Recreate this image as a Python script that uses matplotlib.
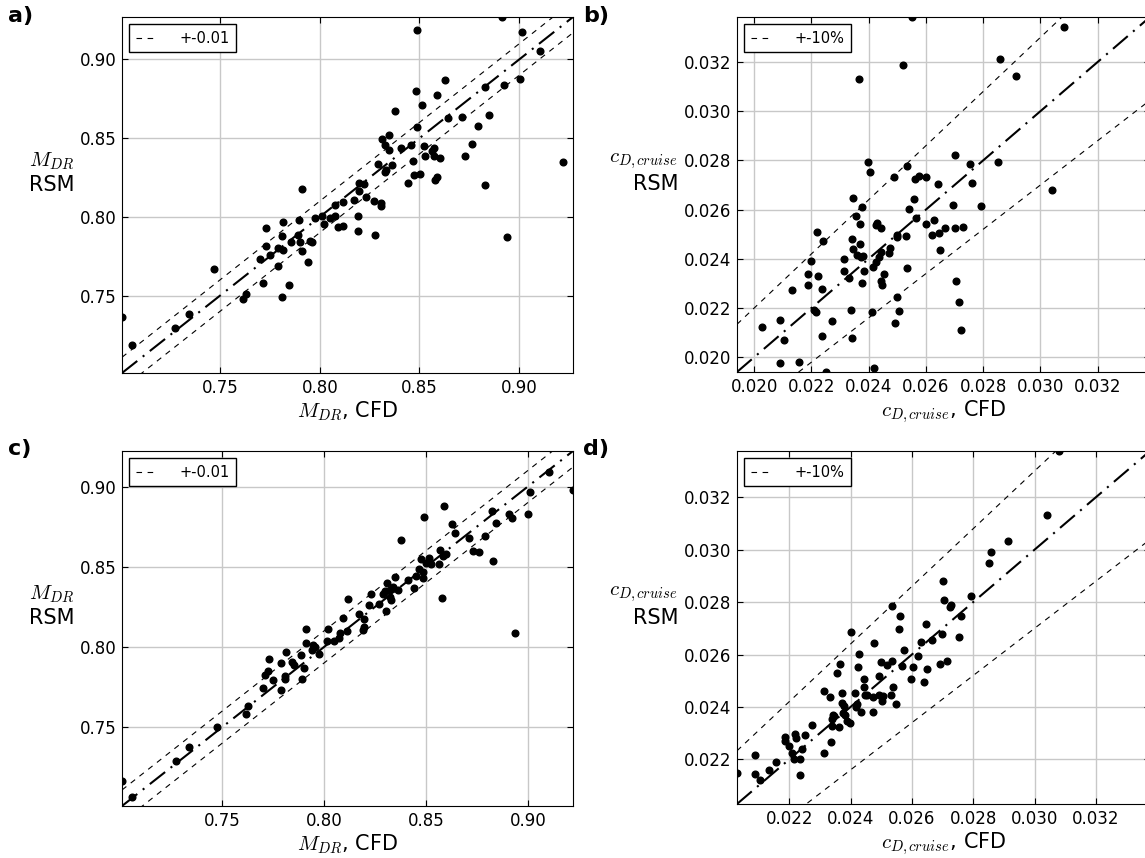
import numpy as np
import matplotlib
matplotlib.use('Agg')
from matplotlib import pyplot as plt

plt.rcParams['mathtext.fontset'] = 'cm'
plt.rcParams['lines.scale_dashes'] = False

# --- a) M_DR, model 1 ---
mdr_cfd_a = [0.7008, 0.7057, 0.7272, 0.7342, 0.7471, 0.7616, 0.7628, 0.7713, 0.7701, 0.7728,
             0.7728, 0.7750, 0.7789, 0.7790, 0.7809, 0.7814, 0.7814, 0.7810, 0.7844, 0.7854,
             0.7889, 0.7901, 0.7909, 0.7909, 0.7894, 0.7941, 0.7951, 0.7960, 0.7978, 0.8012,
             0.8020, 0.8052, 0.8077, 0.8077, 0.8091, 0.8116, 0.8117, 0.8171, 0.8191, 0.8191,
             0.8196, 0.8196, 0.8220, 0.8230, 0.8274, 0.8277, 0.8305, 0.8307, 0.8292, 0.8312,
             0.8327, 0.8346, 0.8349, 0.8326, 0.8334, 0.8364, 0.8379, 0.8409, 0.8455, 0.8467,
             0.8440, 0.8475, 0.8503, 0.8487, 0.8485, 0.8490, 0.8515, 0.8523, 0.8527, 0.8565,
             0.8572, 0.8572, 0.8601, 0.8579, 0.8589, 0.8589, 0.8626, 0.8644, 0.8713, 0.8730,
             0.8762, 0.8792, 0.8827, 0.8830, 0.8847, 0.8913, 0.8923, 0.8941, 0.9002, 0.9013,
             0.9104, 0.9222]
mdr_rsm_a = [0.7364, 0.7183, 0.7294, 0.7383, 0.7666, 0.7481, 0.7508, 0.7583, 0.7733, 0.7812,
             0.7927, 0.7757, 0.7689, 0.7800, 0.7876, 0.7789, 0.7967, 0.7489, 0.7568, 0.7838,
             0.7887, 0.7840, 0.7785, 0.8176, 0.7982, 0.7714, 0.7849, 0.7840, 0.7995, 0.8006,
             0.7952, 0.7991, 0.8006, 0.8073, 0.7935, 0.8094, 0.7942, 0.8109, 0.8003, 0.7912,
             0.8214, 0.8165, 0.8207, 0.8128, 0.8101, 0.7882, 0.8086, 0.8069, 0.8339, 0.8494,
             0.8458, 0.8518, 0.8424, 0.8282, 0.8297, 0.8331, 0.8671, 0.8437, 0.8458, 0.8356,
             0.8216, 0.8267, 0.8275, 0.8573, 0.8800, 0.9187, 0.8713, 0.8450, 0.8388, 0.8420,
             0.8437, 0.8384, 0.8371, 0.8237, 0.8252, 0.8777, 0.8870, 0.8630, 0.8634, 0.8388,
             0.8465, 0.8579, 0.8826, 0.8203, 0.8647, 0.9270, 0.8839, 0.7870, 0.8879, 0.9176,
             0.9055, 0.8350]

# --- b) c_D cruise, model 1 ---
cd_cfd_b = [0.02029, 0.02090, 0.02103, 0.02090, 0.02157, 0.02132, 0.02188, 0.02188, 0.02198, 0.02208,
            0.02217, 0.02218, 0.02224, 0.02236, 0.02236, 0.02242, 0.02252, 0.02272, 0.02315, 0.02315,
            0.02332, 0.02337, 0.02342, 0.02342, 0.02345, 0.02347, 0.02356, 0.02361, 0.02370, 0.02371,
            0.02366, 0.02377, 0.02378, 0.02373, 0.02381, 0.02385, 0.02399, 0.02404, 0.02413, 0.02416,
            0.02419, 0.02426, 0.02426, 0.02430, 0.02435, 0.02443, 0.02444, 0.02444, 0.02446, 0.02453,
            0.02472, 0.02476, 0.02490, 0.02492, 0.02498, 0.02500, 0.02499, 0.02506, 0.02520, 0.02531,
            0.02534, 0.02534, 0.02540, 0.02551, 0.02558, 0.02563, 0.02566, 0.02575, 0.02599, 0.02602,
            0.02621, 0.02628, 0.02641, 0.02647, 0.02649, 0.02668, 0.02694, 0.02701, 0.02702, 0.02706,
            0.02716, 0.02723, 0.02728, 0.02755, 0.02760, 0.02792, 0.02853, 0.02860, 0.02916, 0.03042,
            0.03082]
cd_rsm_b = [0.02123, 0.02153, 0.02071, 0.01978, 0.01982, 0.02274, 0.02293, 0.02337, 0.02393, 0.02190,
            0.02182, 0.02508, 0.02329, 0.02277, 0.02085, 0.02471, 0.01940, 0.02149, 0.02400, 0.02349,
            0.02323, 0.02192, 0.02077, 0.02482, 0.02438, 0.02649, 0.02576, 0.02416, 0.02461, 0.02543,
            0.03129, 0.02609, 0.02301, 0.02408, 0.02413, 0.02349, 0.02795, 0.02751, 0.02184, 0.02366,
            0.01956, 0.02386, 0.02539, 0.02546, 0.02409, 0.02524, 0.02427, 0.02309, 0.02292, 0.02338,
            0.02423, 0.02446, 0.02731, 0.02138, 0.02497, 0.02489, 0.02245, 0.02188, 0.03189, 0.02493,
            0.02777, 0.02361, 0.02604, 0.03383, 0.02645, 0.02723, 0.02564, 0.02736, 0.02731, 0.02541,
            0.02498, 0.02558, 0.02705, 0.02505, 0.02434, 0.02526, 0.02619, 0.02821, 0.02527, 0.02311,
            0.02223, 0.02110, 0.02528, 0.02785, 0.02710, 0.02616, 0.02795, 0.03212, 0.03143, 0.02681,
            0.03344]

# --- c) M_DR, model 2 ---
mdr_cfd_c = [0.7008, 0.7057, 0.7274, 0.7339, 0.7472, 0.7617, 0.7625, 0.7702, 0.7712, 0.7726,
             0.7730, 0.7749, 0.7787, 0.7809, 0.7809, 0.7787, 0.7813, 0.7843, 0.7854, 0.7887,
             0.7899, 0.7894, 0.7910, 0.7910, 0.7943, 0.7948, 0.7956, 0.7976, 0.8012, 0.8020,
             0.8051, 0.8074, 0.8078, 0.8091, 0.8114, 0.8119, 0.8171, 0.8189, 0.8194, 0.8197,
             0.8219, 0.8230, 0.8271, 0.8291, 0.8299, 0.8306, 0.8311, 0.8324, 0.8322, 0.8327,
             0.8337, 0.8348, 0.8361, 0.8378, 0.8411, 0.8440, 0.8453, 0.8465, 0.8475, 0.8485,
             0.8488, 0.8490, 0.8501, 0.8514, 0.8524, 0.8565, 0.8570, 0.8578, 0.8586, 0.8599,
             0.8588, 0.8626, 0.8644, 0.8713, 0.8729, 0.8760, 0.8792, 0.8826, 0.8831, 0.8844,
             0.8910, 0.8923, 0.8939, 0.9000, 0.9013, 0.9103, 0.9222]
mdr_rsm_c = [0.7162, 0.7062, 0.7291, 0.7376, 0.7502, 0.7579, 0.7633, 0.7745, 0.7822, 0.7847,
             0.7926, 0.7793, 0.7731, 0.7820, 0.7797, 0.7901, 0.7968, 0.7905, 0.7887, 0.7951,
             0.7868, 0.7802, 0.8026, 0.8111, 0.7980, 0.8011, 0.7997, 0.7955, 0.8034, 0.8109,
             0.8038, 0.8055, 0.8086, 0.8180, 0.8099, 0.8300, 0.8204, 0.8105, 0.8126, 0.8173,
             0.8263, 0.8333, 0.8267, 0.8333, 0.8346, 0.8227, 0.8400, 0.8358, 0.8313, 0.8290,
             0.8375, 0.8435, 0.8358, 0.8670, 0.8416, 0.8369, 0.8443, 0.8489, 0.8551, 0.8466,
             0.8431, 0.8813, 0.8524, 0.8553, 0.8520, 0.8516, 0.8603, 0.8306, 0.8570, 0.8580,
             0.8882, 0.8767, 0.8709, 0.8682, 0.8601, 0.8595, 0.8691, 0.8850, 0.8533, 0.8776,
             0.8832, 0.8803, 0.8086, 0.8832, 0.8969, 0.9093, 0.8977]

# --- d) c_D cruise, model 2 ---
cd_cfd_d = [0.02030, 0.02090, 0.02090, 0.02104, 0.02133, 0.02158, 0.02188, 0.02188, 0.02199, 0.02209,
            0.02215, 0.02220, 0.02223, 0.02236, 0.02236, 0.02241, 0.02252, 0.02273, 0.02314, 0.02315,
            0.02333, 0.02337, 0.02340, 0.02341, 0.02344, 0.02347, 0.02357, 0.02362, 0.02366, 0.02372,
            0.02372, 0.02376, 0.02378, 0.02382, 0.02387, 0.02399, 0.02402, 0.02415, 0.02418, 0.02422,
            0.02424, 0.02428, 0.02435, 0.02443, 0.02444, 0.02446, 0.02455, 0.02472, 0.02472, 0.02476,
            0.02492, 0.02498, 0.02494, 0.02501, 0.02507, 0.02520, 0.02531, 0.02534, 0.02534, 0.02539,
            0.02549, 0.02558, 0.02562, 0.02567, 0.02575, 0.02598, 0.02602, 0.02621, 0.02630, 0.02640,
            0.02646, 0.02648, 0.02667, 0.02693, 0.02699, 0.02701, 0.02705, 0.02714, 0.02724, 0.02728,
            0.02754, 0.02759, 0.02791, 0.02852, 0.02858, 0.02914, 0.03039, 0.03080]
cd_rsm_d = [0.02147, 0.02215, 0.02143, 0.02121, 0.02161, 0.02190, 0.02285, 0.02269, 0.02251, 0.02224,
            0.02201, 0.02297, 0.02283, 0.02201, 0.02140, 0.02241, 0.02292, 0.02332, 0.02460, 0.02223,
            0.02439, 0.02265, 0.02327, 0.02355, 0.02370, 0.02365, 0.02531, 0.02322, 0.02564, 0.02452,
            0.02414, 0.02378, 0.02404, 0.02368, 0.02346, 0.02340, 0.02686, 0.02454, 0.02398, 0.02411,
            0.02554, 0.02602, 0.02382, 0.02505, 0.02475, 0.02444, 0.02444, 0.02437, 0.02381, 0.02643,
            0.02518, 0.02570, 0.02444, 0.02424, 0.02442, 0.02559, 0.02444, 0.02577, 0.02784, 0.02477,
            0.02411, 0.02697, 0.02745, 0.02556, 0.02617, 0.02508, 0.02551, 0.02593, 0.02647, 0.02495,
            0.02717, 0.02545, 0.02655, 0.02565, 0.02678, 0.02881, 0.02809, 0.02577, 0.02783, 0.02790,
            0.02666, 0.02745, 0.02822, 0.02949, 0.02990, 0.03033, 0.03131, 0.03376]

mdr_ticks = [0.75, 0.80, 0.85, 0.90]
cd_ticks = [0.020, 0.022, 0.024, 0.026, 0.028, 0.030, 0.032]


def panel(ax, x, y, kind, ticks):
    x = np.array(x)
    y = np.array(y)
    lo = min(x.min(), y.min())
    hi = max(x.max(), y.max())
    ref = np.array([lo, hi])
    if kind == 'abs':
        up, dn, lab = ref + 0.01, ref - 0.01, '+-0.01'
        xl, yl = '$M_{DR}$, CFD', '$M_{DR}$\nRSM'
        fmt = '%.2f'
    else:
        up, dn, lab = ref * 1.1, ref * 0.9, '+-10%'
        xl, yl = '$c_{D,cruise}$, CFD', '$c_{D,cruise}$\nRSM'
        fmt = '%.3f'
    ax.plot(ref, ref, 'k-.', lw=1.5, dashes=(14, 5, 1.5, 5))
    ax.plot(ref, up, 'k--', lw=0.8, dashes=(4, 4), label=lab)
    ax.plot(ref, dn, 'k--', lw=0.8, dashes=(4, 4))
    ax.plot(x, y, 'o', color='k', ms=4.8, mec='k')
    ax.set_xlim(lo, hi)
    ax.set_ylim(lo, hi)
    t = [v for v in ticks if lo < v < hi]
    ax.set_xticks(t)
    ax.set_yticks(t)
    ax.set_xticklabels([fmt % v for v in t])
    ax.set_yticklabels([fmt % v for v in t])
    ax.grid(True, color='#c8c8c8', lw=1, ls='-')
    ax.set_axisbelow(True)
    ax.tick_params(direction='in', top=True, right=True, length=4, labelsize=12, pad=4)
    ax.set_xlabel(xl, fontsize=15, labelpad=2)
    ax.set_ylabel(yl, fontsize=15, rotation=0, ha='right', labelpad=4)
    for s in ax.spines.values():
        s.set_color('k')
    leg = ax.legend(loc='upper left', fontsize=10.5, fancybox=False, framealpha=1,
                    edgecolor='k', handlelength=1.4, handletextpad=1.6,
                    borderpad=0.45, borderaxespad=0.5)
    leg.get_frame().set_linewidth(1.0)


fig = plt.figure(figsize=(11.45, 8.58), dpi=100)
W, H = 1145.0, 858.0
ax_a = fig.add_axes([122 / W, 1 - 373 / H, 451 / W, 356 / H])
ax_b = fig.add_axes([737 / W, 1 - 372 / H, 413 / W, 355 / H])
ax_c = fig.add_axes([122 / W, 1 - 806 / H, 451 / W, 355 / H])
ax_d = fig.add_axes([737 / W, 1 - 804 / H, 413 / W, 353 / H])

panel(ax_a, mdr_cfd_a, mdr_rsm_a, 'abs', mdr_ticks)
panel(ax_b, cd_cfd_b, cd_rsm_b, 'rel', cd_ticks)
panel(ax_c, mdr_cfd_c, mdr_rsm_c, 'abs', mdr_ticks)
panel(ax_d, cd_cfd_d, cd_rsm_d, 'rel', cd_ticks)

for lab, px, py in [('a)', 8, 6), ('b)', 583, 6), ('c)', 8, 439), ('d)', 583, 439)]:
    fig.text(px / W, 1 - py / H, lab, fontsize=16, fontweight='bold', va='top', ha='left')

fig.savefig('out.png', dpi=100)
